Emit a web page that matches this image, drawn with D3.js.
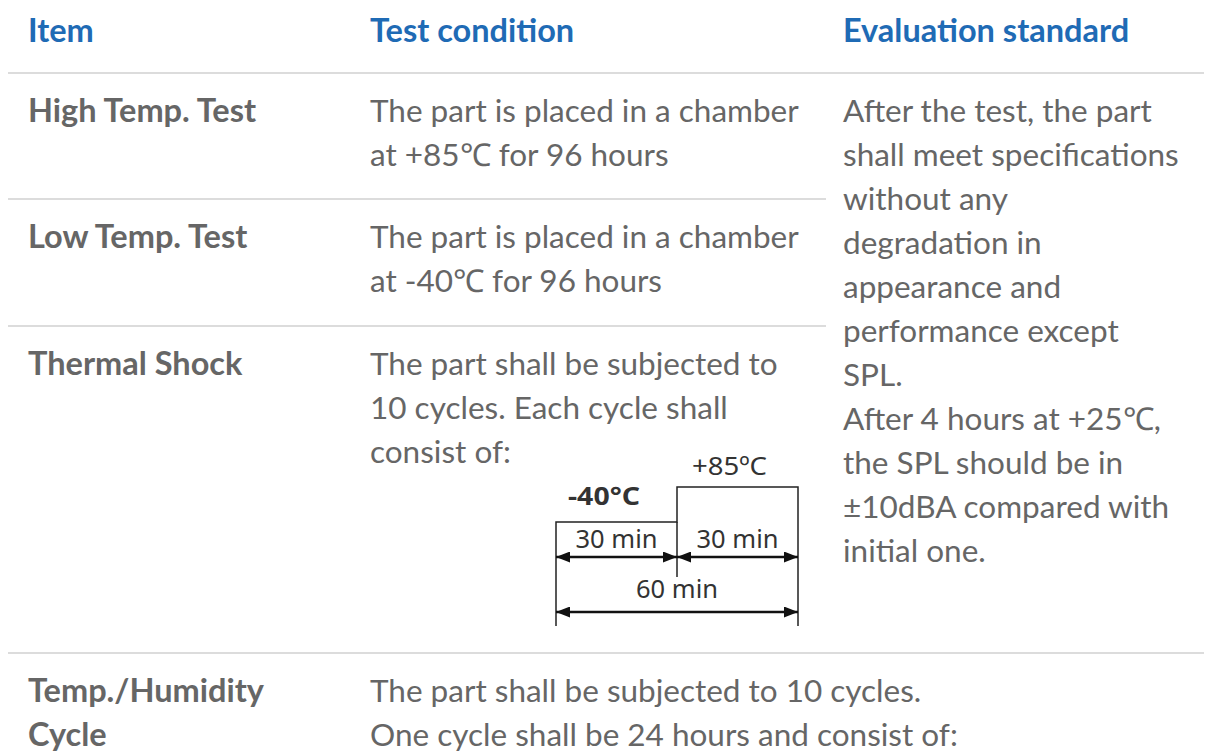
<!DOCTYPE html>
<html>
<head>
<meta charset="utf-8">
<script src="https://cdn.jsdelivr.net/npm/d3@7"></script>
<style>
  body { margin: 0; background: #fff; }
  svg { display: block; }
  .hd { font-family: Lato, sans-serif; font-weight: 700; font-size: 32.5px; fill: #1f6bb5; }
  .item { font-family: Lato, sans-serif; font-weight: 700; font-size: 32.5px; fill: #666; }
  .body { font-family: Lato, sans-serif; font-weight: 400; font-size: 31.5px; fill: #666; }
  .dg { font-family: "Noto Sans", sans-serif; font-size: 25px; fill: #333; }
</style>
</head>
<body>
<div id="chart-area"></div>
<script>
var width = 1213, height = 754;

// table content
var headers = ["Item", "Test condition", "Evaluation standard"];
var items = [["High Temp. Test"], ["Low Temp. Test"], ["Thermal Shock"], ["Temp./Humidity", "Cycle"]];
var conditions = [
    ["The part is placed in a chamber", "at +85\u2103 for 96 hours"],
    ["The part is  placed in a chamber", "at -40\u2103 for 96 hours"],
    ["The part shall be subjected to", "10 cycles. Each cycle shall", "consist of:"],
    ["The part shall be subjected to 10 cycles.", "One cycle shall be 24 hours and consist of:"]
];
var standard = ["After the test, the part", "shall meet specifications", "without any", "degradation in",
    "appearance and", "performance except", "SPL.", "After 4 hours at +25\u2103,",
    "the SPL should be in", "\u00b110dBA compared with", "initial one."];

// thermal shock cycle
var cycleTemps = [-40, 85];
var cycleMinutes = [30, 30];
var cycleTotal = 60;

var colX = [28, 370, 843];
var rowTop = [73, 199, 326, 653];   // separators above each row
var lineH = 44;

var svg = d3.select("#chart-area").append("svg")
    .attr("width", width).attr("height", height);

// headers
svg.selectAll(".hd").data(headers).enter().append("text")
    .attr("class", "hd")
    .attr("x", function(d, i){ return colX[i]; })
    .attr("y", 42)
    .text(function(d){ return d; });

// separators: full width for header rule and last row, shorter for rows sharing the standard cell
svg.selectAll(".sep").data(rowTop).enter().append("line")
    .attr("x1", 8)
    .attr("x2", function(d, i){ return (i == 0 || i == 3) ? 1204 : 826; })
    .attr("y1", function(d){ return d; })
    .attr("y2", function(d){ return d; })
    .attr("stroke", "#dcdcdc")
    .attr("stroke-width", 2);

function writeLines(cls, x, y0, lines){
    svg.append("text")
        .attr("class", cls)
        .selectAll("tspan").data(lines).enter().append("tspan")
        .attr("x", x)
        .attr("y", function(d, i){ return y0 + i * lineH; })
        .text(function(d){ return d; });
}

items.forEach(function(lines, i){
    writeLines("item", colX[0], rowTop[i] + 49, lines);
    writeLines("body", colX[1], rowTop[i] + 49, conditions[i]);
});
writeLines("body", colX[2], rowTop[0] + 49, standard);

// diagram
var dx = d3.scaleLinear().domain([0, cycleTotal]).range([556, 798]);
var dy = d3.scaleLinear().domain([cycleTemps[0], cycleTemps[1]]).range([522, 487]);
var bottom = 626;
var dg = svg.append("g");

var mid = cycleMinutes[0];
var stepPts = [[0, bottom, true], [0, cycleTemps[0]], [mid, cycleTemps[0]], [mid, cycleTemps[1]],
    [cycleTotal, cycleTemps[1]], [cycleTotal, bottom, true]];
dg.append("path")
    .attr("d", d3.line()
        .x(function(p){ return dx(p[0]); })
        .y(function(p){ return p[2] ? p[1] : dy(p[1]); })(stepPts))
    .attr("fill", "none").attr("stroke", "#222").attr("stroke-width", 1.5);

dg.append("line")
    .attr("x1", dx(mid)).attr("x2", dx(mid))
    .attr("y1", dy(cycleTemps[0])).attr("y2", 577)
    .attr("stroke", "#222").attr("stroke-width", 1.5);

svg.append("defs").append("marker")
    .attr("id", "ah").attr("viewBox", "0 0 14 11")
    .attr("refX", 14).attr("refY", 5.5)
    .attr("markerWidth", 14).attr("markerHeight", 11)
    .attr("markerUnits", "userSpaceOnUse")
    .attr("orient", "auto-start-reverse")
    .append("path").attr("d", "M0,0L14,5.5L0,11Z").attr("fill", "#111");

var spans = [[0, mid, 557, 9], [mid, cycleTotal, 557, 9], [0, cycleTotal, 612, 14]];
dg.selectAll(".arr").data(spans).enter().append("line")
    .attr("x1", function(d){ return dx(d[0]); })
    .attr("x2", function(d){ return dx(d[1]); })
    .attr("y1", function(d){ return d[2]; })
    .attr("y2", function(d){ return d[2]; })
    .attr("stroke", "#111").attr("stroke-width", 2.5)
    .attr("marker-start", "url(#ah)").attr("marker-end", "url(#ah)");

dg.selectAll(".lbl").data(spans).enter().append("text")
    .attr("class", "dg")
    .attr("text-anchor", "middle")
    .attr("x", function(d){ return (dx(d[0]) + dx(d[1])) / 2; })
    .attr("y", function(d){ return d[2] - d[3]; })
    .attr("textLength", 82).attr("lengthAdjust", "spacingAndGlyphs")
    .text(function(d){ return (d[1] - d[0]) + " min"; });

dg.append("text").attr("class", "dg")
    .attr("x", 568).attr("y", 505)
    .attr("font-weight", 700).attr("fill", "#2a2a2a")
    .attr("textLength", 72).attr("lengthAdjust", "spacingAndGlyphs")
    .text(cycleTemps[0] + "\u00b0C");
dg.append("text").attr("class", "dg")
    .attr("x", 692).attr("y", 475)
    .attr("textLength", 75).attr("lengthAdjust", "spacingAndGlyphs")
    .text("+" + cycleTemps[1] + "\u00baC");
</script>
</body>
</html>
